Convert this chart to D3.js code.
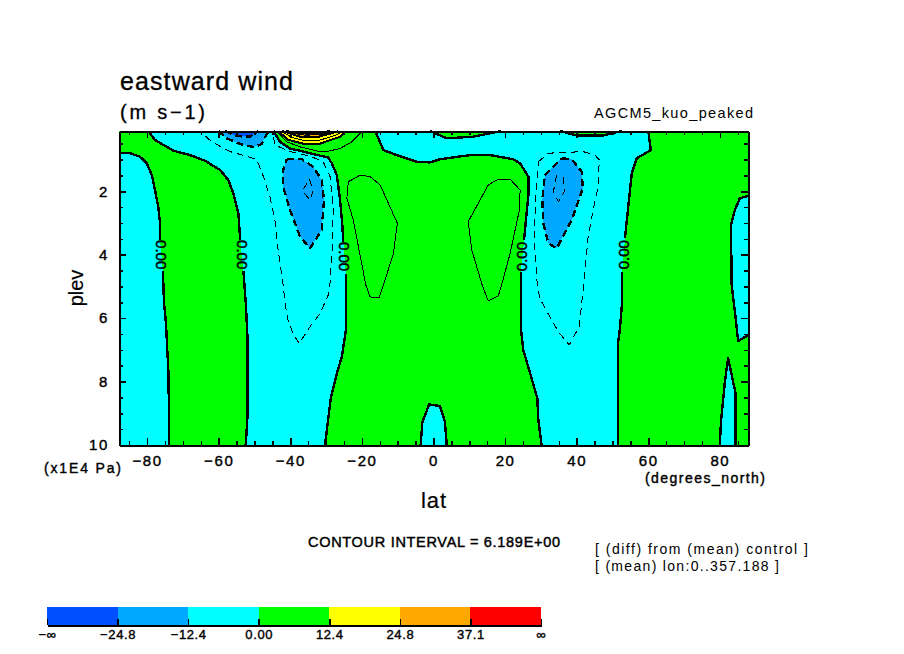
<!DOCTYPE html>
<html>
<head>
<meta charset="utf-8">
<title>eastward wind</title>
<style>
  html, body { margin: 0; padding: 0; background: #fff; }
  svg { display: block; }
  text { font-family: 'Liberation Sans', sans-serif; fill: #000; }
  .contour { fill: none; stroke: #000; shape-rendering: crispEdges; stroke-linejoin: round; }
  .fill { stroke: none; shape-rendering: crispEdges; }
  .axis line, .axis path { stroke: #000; shape-rendering: crispEdges; }
  .axis line { stroke-width: 1.5; }
  .axis path { stroke-width: 2; }
  .axis text { font-family: 'Liberation Sans', sans-serif; font-size: 15px; letter-spacing: 1.6px; stroke: #000; stroke-width: 0.4; }
</style>
</head>
<body>
<svg id="chart" width="904" height="654"></svg>
<script src="https://cdn.jsdelivr.net/npm/d3@7"></script>
<script>
// axis values
var latMajor = [-80, -60, -40, -20, 0, 20, 40, 60, 80];
var latMinor = [-85, -75, -70, -65, -55, -50, -45, -35, -30, -25, -15, -10, -5, 5, 10, 15, 25, 30, 35, 45, 50, 55, 65, 70, 75, 85];
var plevMajor = [2, 4, 6, 8, 10];
var plevMinor = [0.5, 1, 1.5, 2.5, 3, 3.5, 4.5, 5, 5.5, 6.5, 7, 7.5, 8.5, 9, 9.5];

// colour bar
var barLabels = ["−∞", "−24.8", "−12.4", "0.00", "12.4", "24.8", "37.1", "∞"];
var barBands = ["b1", "b2", "b3", "b4", "b5", "b6", "b7"];

// contours, [lat, plev], null = gap for the label
var zeroFarLeft = [[-87.86,0.78],[-84.8,0.8],[-82,0.91],[-80.1,1.12],[-78.7,1.49],[-77.8,1.96],[-76.9,2.49],[-76.4,3.01],[-76.4,3.54],null,
  [-75.6,4.52],[-75.3,5.48],[-74.7,6.22],[-74.4,6.95],[-74,7.8],[-73.9,10]];
var zeroLeft = [[-79.7,0.1],[-77.8,0.38],[-72.7,0.72],[-68,0.86],[-63.8,1.04],[-59.6,1.33],[-57.3,1.65],[-55.9,2.07],[-54.5,2.7],[-54,3.54],null,
  [-53.1,4.52],[-52.4,5.59],[-52,6.54],[-52,9.16],[-52.4,9.9],[-52.5,10]];
var zeroMidLeft = [[-44.7,0.1],[-42.9,0.44],[-40.1,0.65],[-34.5,0.8],[-29.4,0.94],[-28.4,1.12],[-27,1.49],[-26.1,2.28],[-25.5,3.01],[-25.2,3.59],null,
  [-24.5,4.6],[-24.4,4.96],[-24.4,6.32],[-24.9,6.69],[-25.6,7.22],[-27,7.74],[-28.7,8.53],[-29.4,9.16],[-30.3,10]];
var zeroMidRight = [[-16.3,0.1],[-14,0.7],[-10.3,0.86],[-4.7,1.07],[-1,1.09],[1.8,0.99],[10.2,0.86],[15.8,0.86],[22.3,0.99],[24.2,1.12],[26.5,1.54],[26.5,2.12],[26,2.7],[25.3,3.54],null,
  [24.4,4.55],[24.4,4.96],[24.4,6.32],[25.1,7.01],[27,7.74],[29,8.53],[29.3,9.22],[30.2,10]];
var zeroRight = [[60,0.1],[60.7,0.7],[56.8,0.96],[55.4,1.43],[54.4,2.49],[53.5,3.48],null,
  [52.7,4.55],[52.7,5.48],[52.1,6.32],[51.6,6.75],[51.5,8.53],[51.5,10]];
var zeroStripA = [[-1,0.1],[3.7,0.33],[11.1,0.28],[19,0.1]];
var zeroStripB = [[35.3,0.1],[40,0.24],[47.4,0.24],[52.6,0.1]];
var zeroEdge = [[87.86,2.15],[85.6,2.22],[84.2,2.59],[83.1,3.07],[83.3,4.96],[84.2,5.8],[85.1,6.72],[87.86,6.54]];
var zeroSpike = [[80,10],[80.3,9.27],[81.4,8.01],[82.3,7.25],[83.3,7.8],[84.4,8.37],[84.4,10]];
var zeroBubble = [[-3.6,10],[-3.1,9.27],[-1.2,8.72],[1.8,8.77],[3.2,9.27],[3.7,10]];

var neg6Left = [[-66.6,0.1],[-64.3,0.19],[-62,0.44],[-56.8,0.75],[-49.4,0.99],[-47.5,1.54],[-45.7,2.17],[-44.3,2.91],[-43.4,3.85],[-42,4.96],[-41.5,5.48],[-40.8,6.01],[-39.3,6.48],[-37.5,6.8],[-34.5,6.27],[-31.7,5.85],[-29.4,5.27],[-28.9,4.89],[-28.2,3.64],[-28,2.49],[-28.9,1.54],[-30.8,1.07],[-34.5,0.89],[-40.1,0.75],[-44.3,0.54],[-45,0.1]];
var neg6Right = [[29.3,1.07],[32.1,0.8],[41.8,0.75],[45.1,0.86],[46.3,1.01],[46,1.86],[44.6,2.59],[43.2,3.43],[42,4.9],[40.7,6.27],[37.9,6.85],[34.9,6.43],[32.5,5.96],[29.7,5.38],[29,4.96],[28.2,3.64],[28.4,2.49],[29.3,1.07]];
var neg12Top = [[-60.1,0.1],[-57.8,0.33],[-54,0.51],[-50.3,0.61],[-48,0.51],[-46.1,0.1]];
var neg12Left = [[-41,0.99],[-36.8,0.99],[-33.6,1.23],[-31.2,1.65],[-30.6,2.28],[-31.2,3.22],[-34.5,3.8],[-37.3,3.43],[-40.1,2.59],[-42,1.86],[-42,1.33],[-41,0.99]];
var neg12Right = [[35.8,0.96],[38.6,0.99],[41.4,1.38],[41.7,1.91],[38.6,2.91],[34.4,3.8],[32.1,3.64],[30.7,3.01],[30.4,2.28],[31.1,1.49],[35.8,0.96]];
var neg18Left = [[-34.7,1.62],[-33.6,1.96],[-34.5,2.28],[-36.6,1.98],[-34.7,1.62]];
var neg18Right = [[34.4,1.49],[33.5,2.01],[34.9,2.33],[36.7,1.98],[36.1,1.49]];
var neg25Top = [[-58.2,0.1],[-55,0.26],[-51.3,0.28],[-48.9,0.1]];

var pos6Left = [[-23.8,1.7],[-20.5,1.49],[-17.7,1.54],[-14.9,1.8],[-10.1,3.01],[-11.2,3.96],[-14,4.96],[-15.2,5.36],[-17.7,5.33],[-18.9,4.96],[-22.4,2.91],[-24.2,2.22],[-23.8,1.7]];
var pos6Right = [[9.7,2.96],[15.3,1.8],[18.1,1.62],[21.4,1.62],[24.2,1.96],[24,2.59],[21.4,3.96],[19,4.96],[18.1,5.3],[15.3,5.46],[13.6,4.96],[10.7,3.85],[9.7,2.96]];
var pos6Cap = [[-43.8,0.1],[-41,0.44],[-37.3,0.6],[-32.6,0.73],[-29.8,0.75],[-26.1,0.65],[-22.8,0.44],[-19.9,0.1]];
var pos12Cap = [[-43.4,0.1],[-40.6,0.38],[-36.4,0.5],[-31.7,0.5],[-26.1,0.28],[-24.2,0.1]];
var pos18Cap = [[-42.6,0.1],[-39.6,0.3],[-36.2,0.4],[-31.8,0.39],[-27,0.22],[-25.4,0.1]];
var pos25Cap = [[-42.3,0.1],[-39.6,0.2],[-36.6,0.3],[-32.4,0.29],[-28.4,0.17],[-26.6,0.1]];
var pos31Cap = [[-41.8,0.1],[-39.2,0.18],[-36,0.23],[-32,0.22],[-28,0.14],[-27.4,0.1]];
var pos37Cap = [[-41.2,0.1],[-38.4,0.16],[-34.5,0.19],[-31.1,0.15],[-28.9,0.1]];

// labels on the zero line: lat, plev, rotation
var zeroLabelLat = [-76, -53.5, -24.9, 24.7, 53.1];
var zeroLabelPlev = [4.0, 4.0, 4.06, 4.06, 4.0];
var zeroLabelTurn = [90, 90, 90, -90, -90];

var colors = { b1: "#0050ff", b2: "#00a8ff", b3: "#00ffff", b4: "#00ff00", b5: "#ffff00", b6: "#ffa800", b7: "#ff0000" };

var svg = d3.select("#chart");
var x = d3.scaleLinear().domain([-87.86, 87.86]).range([119, 748]);
var y = d3.scaleLinear().domain([0.1, 10]).range([131, 445]);

var line = d3.line().defined(function (d) { return d; })
  .x(function (d) { return x(d[0]); })
  .y(function (d) { return y(d[1]); });

function solid(pts) { return pts.filter(function (d) { return d; }); }
function rev(pts) { return solid(pts).slice().reverse(); }

// filled regions, cyan underneath
var plot = svg.append("g");
function fill(pts, c) {
  plot.append("path").attr("class", "fill").attr("d", line(pts)).attr("fill", colors[c]);
}
plot.append("rect").attr("x", x(-87.86)).attr("y", y(0.1))
  .attr("width", x(87.86) - x(-87.86)).attr("height", y(10) - y(0.1)).attr("fill", colors.b3);

fill(solid(zeroFarLeft).concat(rev(zeroLeft), [[-87.86, 0.1]]), "b4");
fill(solid(zeroMidLeft).concat(rev(zeroMidRight)), "b4");
fill(solid(zeroRight).concat([[87.86, 10], [87.86, 0.1]]), "b4");
fill(zeroStripA, "b4");
fill(zeroStripB, "b4");
fill(zeroEdge, "b3");
fill(zeroSpike, "b3");
fill(zeroBubble, "b3");
fill(neg12Top, "b2");
fill(neg25Top, "b1");
fill(neg12Left, "b2");
fill(neg12Right, "b2");
fill(pos12Cap, "b5");
fill(pos25Cap, "b6");

// contour lines
function contour(pts, w, dash) {
  plot.append("path").attr("class", "contour").attr("d", line(pts))
    .attr("stroke-width", w).attr("stroke-dasharray", dash || null);
}
[zeroFarLeft, zeroLeft, zeroMidLeft, zeroMidRight, zeroRight, zeroStripA, zeroStripB, zeroEdge, zeroSpike, zeroBubble].forEach(function (c) { contour(c, 2.4); });
[neg6Left, neg6Right, neg18Left, neg18Right].forEach(function (c) { contour(c, 1, "7,5"); });
[neg12Top, neg12Left, neg12Right, neg25Top].forEach(function (c) { contour(c, 2.4, "7,4"); });
[pos6Left, pos6Right, pos6Cap, pos18Cap, pos31Cap].forEach(function (c) { contour(c, 1); });
[pos12Cap, pos25Cap, pos37Cap].forEach(function (c) { contour(c, 2); });

// zero labels
zeroLabelLat.forEach(function (lat, i) {
  svg.append("text")
    .attr("transform", "translate(" + x(lat) + "," + y(zeroLabelPlev[i]) + ") rotate(" + zeroLabelTurn[i] + ")")
    .attr("text-anchor", "middle").attr("dy", "0.36em")
    .attr("font-size", 15).attr("stroke", "#000").attr("stroke-width", 0.5)
    .text("0.00");
});

// axes
function fmt(d) { return d < 0 ? "−" + Math.abs(d) : "" + d; }
svg.append("g").attr("class", "axis").attr("transform", "translate(0,445)")
  .call(d3.axisBottom(x).tickValues(latMajor).tickSize(-7).tickSizeOuter(0).tickPadding(10).tickFormat(fmt));
svg.append("g").attr("class", "axis").attr("transform", "translate(0,445)")
  .call(d3.axisBottom(x).tickValues(latMinor).tickSize(-4).tickSizeOuter(0).tickFormat(""));
svg.append("g").attr("class", "axis").attr("transform", "translate(0,131)")
  .call(d3.axisTop(x).tickValues(latMajor).tickSize(-7).tickSizeOuter(0).tickFormat(""));
svg.append("g").attr("class", "axis").attr("transform", "translate(0,131)")
  .call(d3.axisTop(x).tickValues(latMinor).tickSize(-4).tickSizeOuter(0).tickFormat(""));
svg.append("g").attr("class", "axis").attr("transform", "translate(119,0)")
  .call(d3.axisLeft(y).tickValues(plevMajor).tickSize(-7).tickSizeOuter(0).tickPadding(10).tickFormat(fmt));
svg.append("g").attr("class", "axis").attr("transform", "translate(119,0)")
  .call(d3.axisLeft(y).tickValues(plevMinor).tickSize(-4).tickSizeOuter(0).tickFormat(""));
svg.append("g").attr("class", "axis").attr("transform", "translate(748,0)")
  .call(d3.axisRight(y).tickValues(plevMajor).tickSize(-7).tickSizeOuter(0).tickFormat(""));
svg.append("g").attr("class", "axis").attr("transform", "translate(748,0)")
  .call(d3.axisRight(y).tickValues(plevMinor).tickSize(-4).tickSizeOuter(0).tickFormat(""));

// texts, stretched to the widths in the picture
function label(s, px, py, size, width, heavy) {
  var t = svg.append("text").attr("x", px).attr("y", py).attr("font-size", size)
    .attr("textLength", width).attr("lengthAdjust", "spacing").text(s);
  if (heavy) t.attr("stroke", "#000").attr("stroke-width", heavy);
  return t;
}
label("eastward wind", 120, 90, 25, 173, 0.3);
label("(m s−1)", 120, 119, 20, 85, 0.3);
label("AGCM5_kuo_peaked", 594, 118, 14.5, 159);
label("(x1E4 Pa)", 44, 473, 14, 77, 0.4);
label("(degrees_north)", 645, 483, 14, 120, 0.4);
label("lat", 421, 508, 22, 25, 0.2);
label("CONTOUR INTERVAL = 6.189E+00", 308, 547, 14.5, 252, 0.45);
label("[ (diff) from (mean) control ]", 595, 554, 14, 213);
label("[ (mean) lon:0..357.188 ]", 595, 571, 14, 184);
svg.append("text").attr("transform", "translate(83,288) rotate(-90)").attr("text-anchor", "middle")
  .attr("font-size", 20).attr("stroke", "#000").attr("stroke-width", 0.2).text("plev");

// colour bar
var barX = d3.scaleBand().domain(barBands).range([47, 541]);
var barAxis = d3.scalePoint().domain(barLabels).range([47, 541]);
svg.append("g").selectAll("rect").data(barBands).enter().append("rect")
  .attr("class", "fill")
  .attr("x", function (d) { return barX(d); }).attr("y", 607)
  .attr("width", barX.bandwidth()).attr("height", 18)
  .attr("fill", function (d) { return colors[d]; });
var barG = svg.append("g").attr("class", "axis").attr("transform", "translate(0,625)")
  .call(d3.axisBottom(barAxis).tickSize(-6).tickSizeOuter(0).tickPadding(5));
barG.selectAll("text").style("font-size", "13px").style("letter-spacing", "0.6px");
</script>
</body>
</html>
